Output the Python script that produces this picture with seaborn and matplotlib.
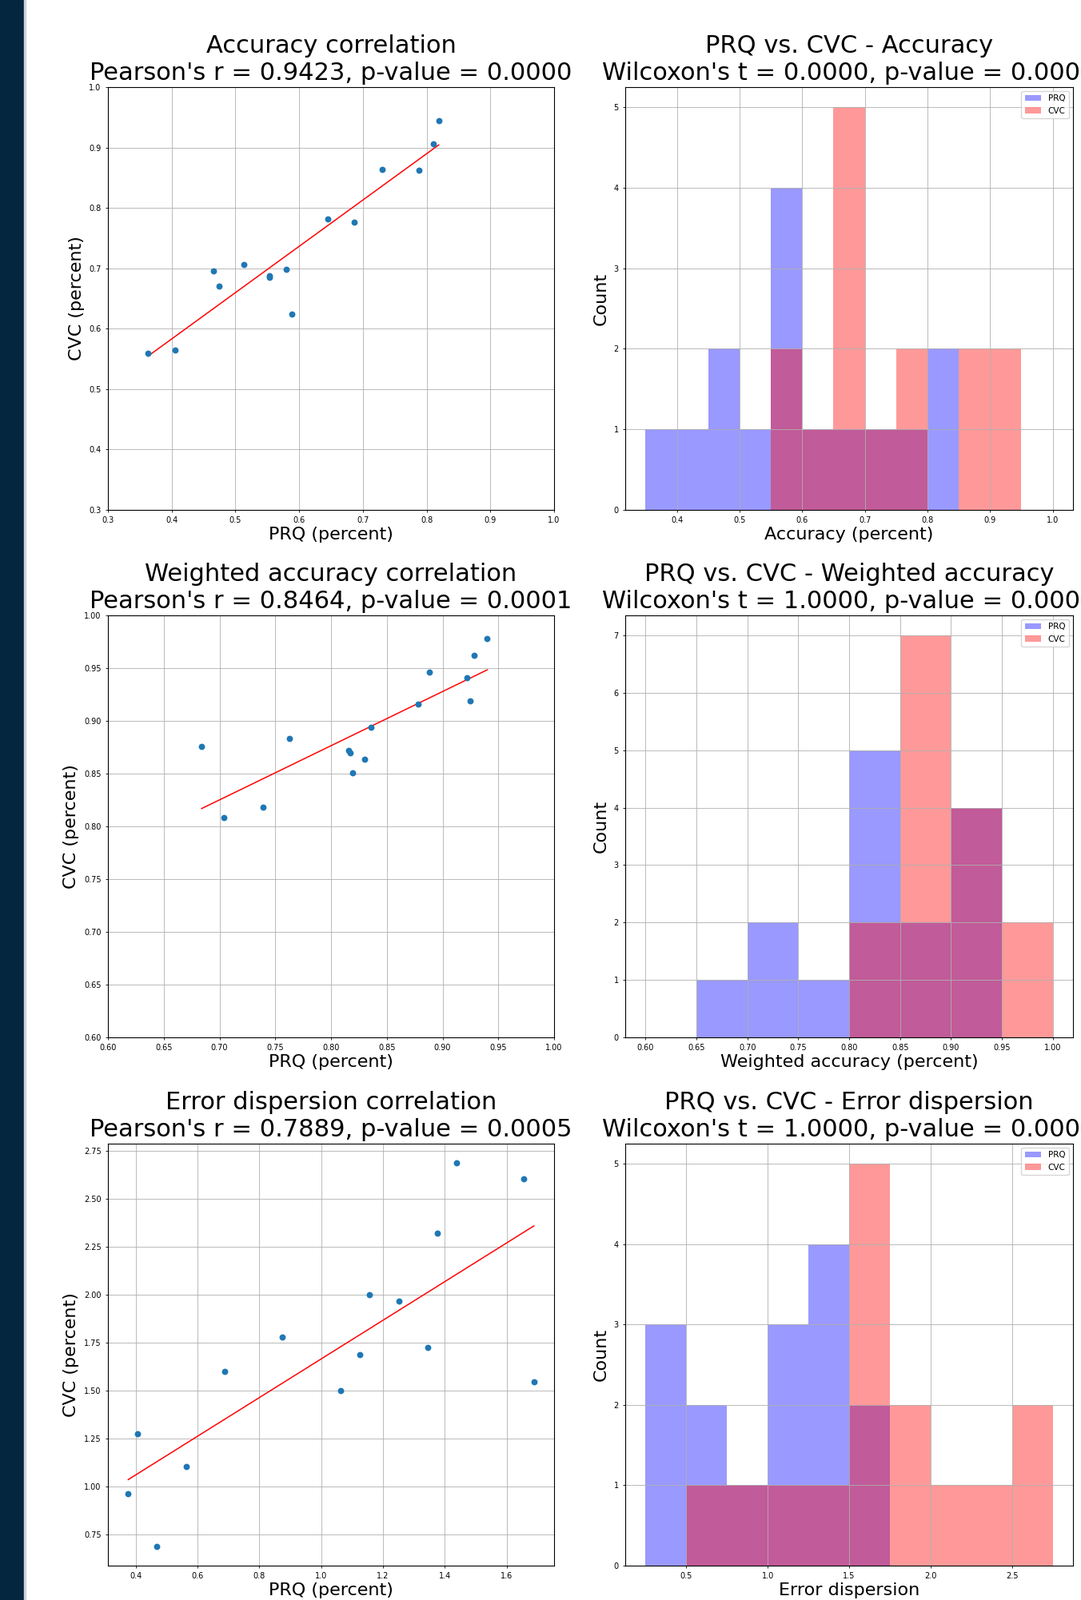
import matplotlib
matplotlib.use("Agg")
import matplotlib.pyplot as plt
from matplotlib.patches import Rectangle
import seaborn as sns

# Per-run results (15 runs each)
acc_prq = [0.363, 0.405, 0.465, 0.474, 0.513, 0.553, 0.554, 0.580, 0.589,
           0.645, 0.686, 0.730, 0.788, 0.810, 0.819]
acc_cvc = [0.559, 0.565, 0.695, 0.670, 0.706, 0.688, 0.685, 0.698, 0.624,
           0.782, 0.777, 0.864, 0.862, 0.906, 0.945]

wacc_prq = [0.684, 0.704, 0.739, 0.763, 0.816, 0.817, 0.819, 0.830, 0.836,
            0.878, 0.888, 0.922, 0.925, 0.928, 0.940]
wacc_cvc = [0.876, 0.808, 0.818, 0.883, 0.872, 0.870, 0.851, 0.864, 0.894,
            0.916, 0.946, 0.941, 0.919, 0.962, 0.978]

err_prq = [0.376, 0.407, 0.469, 0.563, 0.687, 0.875, 1.063, 1.125, 1.156,
           1.251, 1.344, 1.375, 1.438, 1.655, 1.688]
err_cvc = [0.966, 1.276, 0.689, 1.104, 1.602, 1.781, 1.502, 1.690, 2.002,
           1.968, 1.725, 2.324, 2.689, 2.607, 1.549]

metrics = ["Accuracy", "Weighted accuracy", "Error dispersion"]
hist_xlabels = ["Accuracy (percent)", "Weighted accuracy (percent)", "Error dispersion"]
pearson_r = ["0.9423", "0.8464", "0.7889"]
pearson_p = ["0.0000", "0.0001", "0.0005"]
wilcoxon_t = ["0.0000", "1.0000", "1.0000"]
wilcoxon_p = ["0.0001", "0.0001", "0.0001"]
bin_width = [0.05, 0.05, 0.25]
bin_range = [(0.35, 1.0), (0.60, 1.0), (0.25, 2.75)]
scatter_lims = [(0.3, 1.0), (0.6, 1.0), None]

data = [(acc_prq, acc_cvc), (wacc_prq, wacc_cvc), (err_prq, err_cvc)]

W, H = 1352, 2002
fig = plt.figure(figsize=(W / 100, H / 100), dpi=100)
fig.patch.set_facecolor("white")

# dark page strip on the left edge of the screenshot
fig.patches.append(Rectangle((0, 0), 30 / W, 1, transform=fig.transFigure,
                             color="#05263f", zorder=0))
fig.patches.append(Rectangle((30 / W, 0), 2 / W, 1, transform=fig.transFigure,
                             color="#c9d2dd", zorder=0))

col_x = [(135, 693), (782, 1342)]
row_y = [(109, 638), (770, 1298), (1431, 1959)]

TITLE = 22
LABEL = 16
TICK = 7

for i, metric in enumerate(metrics):
    prq, cvc = data[i]
    top, bot = row_y[i]

    # correlation scatter
    l, r = col_x[0]
    ax = fig.add_axes([l / W, 1 - bot / H, (r - l) / W, (bot - top) / H])
    ax.grid(True, linewidth=0.6)
    sns.scatterplot(x=prq, y=cvc, ax=ax, s=32, color="#1f77b4", linewidth=0, zorder=3)
    sns.regplot(x=prq, y=cvc, ax=ax, scatter=False, ci=None, truncate=True,
                color="red", line_kws={"linewidth": 1.1})
    if scatter_lims[i] is not None:
        ax.set_xlim(*scatter_lims[i])
        ax.set_ylim(*scatter_lims[i])
    ax.set_title(f"{metric} correlation\nPearson's r = {pearson_r[i]}, p-value = {pearson_p[i]}",
                 fontsize=TITLE, pad=6.5)
    ax.set_xlabel("PRQ (percent)", fontsize=LABEL, labelpad=2)
    ax.set_ylabel("CVC (percent)", fontsize=LABEL)
    ax.tick_params(labelsize=TICK, length=2.5, width=0.6)

    # paired histogram
    l, r = col_x[1]
    ax = fig.add_axes([l / W, 1 - bot / H, (r - l) / W, (bot - top) / H])
    ax.grid(True, linewidth=0.6)
    ax.set_axisbelow("line")
    sns.histplot(x=prq, ax=ax, binwidth=bin_width[i], binrange=bin_range[i],
                 color="blue", alpha=0.4, linewidth=0, label="PRQ")
    sns.histplot(x=cvc, ax=ax, binwidth=bin_width[i], binrange=bin_range[i],
                 color="red", alpha=0.4, linewidth=0, label="CVC")
    ax.set_title(f"PRQ vs. CVC - {metric}\nWilcoxon's t = {wilcoxon_t[i]}, p-value = {wilcoxon_p[i]}",
                 fontsize=TITLE, pad=6.5)
    ax.set_xlabel(hist_xlabels[i], fontsize=LABEL, labelpad=2)
    ax.set_ylabel("Count", fontsize=LABEL)
    ax.tick_params(labelsize=TICK, length=2.5, width=0.6)
    ax.legend(loc="upper right", fontsize=7.5)

fig.savefig("out.png", dpi=100)
plt.close(fig)
